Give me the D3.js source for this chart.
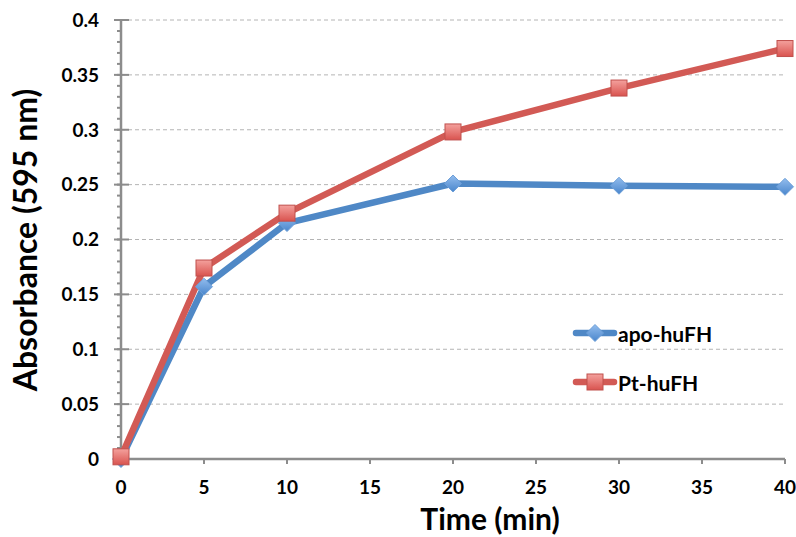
<!DOCTYPE html>
<html><head><meta charset="utf-8">
<script src="https://cdn.jsdelivr.net/npm/d3@7"></script>
<style>body{margin:0;background:#fff}</style>
</head><body>
<svg id="c" width="796" height="537"></svg>
<script>
const times = [0, 5, 10, 20, 30, 40];
const apoValues = [0.0, 0.157, 0.215, 0.251, 0.249, 0.248];
const ptValues = [0.002, 0.174, 0.224, 0.298, 0.338, 0.374];
const xTicks = [0, 5, 10, 15, 20, 25, 30, 35, 40];
const yTicks = [0, 0.05, 0.1, 0.15, 0.2, 0.25, 0.3, 0.35, 0.4];
const yTickLabels = ["0", "0.05", "0.1", "0.15", "0.2", "0.25", "0.3", "0.35", "0.4"];
const seriesNames = ["apo-huFH", "Pt-huFH"];

const svg = d3.select("#c");
const font = "Lato, 'Open Sans', sans-serif";
const x = d3.scaleLinear().domain([0, 40]).range([121, 785]);
const y = d3.scaleLinear().domain([0, 0.4]).range([459, 20]);

// gridlines
svg.append("g").selectAll("line").data(yTicks.filter(d => d > 0)).join("line")
  .attr("x1", x(0)).attr("x2", x(40)).attr("y1", d => y(d)).attr("y2", d => y(d))
  .attr("stroke", "#b4b4b4").attr("stroke-width", 1).attr("stroke-dasharray", "4,3");

// minor y ticks
const minor = d3.range(0, 41).map(i => i / 100);
svg.append("g").selectAll("line").data(minor).join("line")
  .attr("x1", x(0) - 4).attr("x2", x(0)).attr("y1", d => y(d)).attr("y2", d => y(d))
  .attr("stroke", "#8c8c8c").attr("stroke-width", 2);
// major y ticks
svg.append("g").selectAll("line").data(yTicks).join("line")
  .attr("x1", x(0) - 7).attr("x2", x(0) + 8).attr("y1", d => y(d)).attr("y2", d => y(d))
  .attr("stroke", "#8c8c8c").attr("stroke-width", 2);
// x ticks
svg.append("g").selectAll("line").data(xTicks).join("line")
  .attr("x1", d => x(d)).attr("x2", d => x(d)).attr("y1", y(0)).attr("y2", y(0) + 5)
  .attr("stroke", "#8c8c8c").attr("stroke-width", 2);
// axis lines
svg.append("line").attr("x1", x(0)).attr("x2", x(0)).attr("y1", y(0.4)).attr("y2", y(0))
  .attr("stroke", "#8c8c8c").attr("stroke-width", 2.5);
svg.append("line").attr("x1", x(0)).attr("x2", x(40)).attr("y1", y(0)).attr("y2", y(0))
  .attr("stroke", "#8c8c8c").attr("stroke-width", 2.5);

// tick labels
svg.append("g").selectAll("text").data(yTicks).join("text")
  .attr("x", 99).attr("y", d => y(d)).attr("dy", "0.36em").attr("text-anchor", "end")
  .attr("font-family", font).attr("font-weight", "bold").attr("font-size", 19)
  .text((d, i) => yTickLabels[i]);
svg.append("g").selectAll("text").data(xTicks).join("text")
  .attr("x", d => x(d)).attr("y", 494).attr("text-anchor", "middle")
  .attr("font-family", font).attr("font-weight", "bold").attr("font-size", 19)
  .text(d => d);

// axis titles
svg.append("text").attr("x", 490).attr("y", 530).attr("text-anchor", "middle")
  .attr("font-family", font).attr("font-weight", "bold").attr("font-size", 30).text("Time (min)");
svg.append("text").attr("transform", "translate(37,240) rotate(-90)").attr("text-anchor", "middle")
  .attr("font-family", font).attr("font-weight", "bold").attr("font-size", 32).text("Absorbance (595 nm)");

const line = d3.line().x(d => x(d[0])).y(d => y(d[1]));
const apoData = times.map((t, i) => [t, apoValues[i]]);
const ptData = times.map((t, i) => [t, ptValues[i]]);

const defs = svg.append("defs");
const gR = defs.append("linearGradient").attr("id", "gr").attr("x1", 0).attr("y1", 0).attr("x2", 0).attr("y2", 1);
gR.append("stop").attr("offset", 0).attr("stop-color", "#f4a19d");
gR.append("stop").attr("offset", 1).attr("stop-color", "#d9534f");
const gB = defs.append("linearGradient").attr("id", "gb").attr("x1", 0).attr("y1", 0).attr("x2", 0).attr("y2", 1);
gB.append("stop").attr("offset", 0).attr("stop-color", "#93bdee");
gB.append("stop").attr("offset", 1).attr("stop-color", "#4a86cc");

const blue = "#4f88c6", red = "#d25a55";
svg.append("path").datum(apoData).attr("d", line).attr("fill", "none")
  .attr("stroke", blue).attr("stroke-width", 6.5).attr("stroke-linejoin", "round");
svg.append("path").datum(ptData).attr("d", line).attr("fill", "none")
  .attr("stroke", red).attr("stroke-width", 6.5).attr("stroke-linejoin", "round");

function drawDiamond(g, cx, cy) {
  g.append("path").attr("d", "M0,-8.5L8.5,0L0,8.5L-8.5,0Z").attr("transform", `translate(${cx},${cy})`)
    .attr("fill", "url(#gb)").attr("stroke", "#6d9fd8").attr("stroke-width", 1);
}
function drawSquare(g, cx, cy) {
  g.append("rect").attr("x", cx - 8).attr("y", cy - 8).attr("width", 16).attr("height", 16)
    .attr("fill", "url(#gr)").attr("stroke", "#c0504d").attr("stroke-width", 1);
}
const mk = svg.append("g");
apoData.forEach(d => drawDiamond(mk, x(d[0]), y(d[1])));
ptData.forEach(d => drawSquare(mk, x(d[0]), y(d[1])));

// legend
const leg = svg.append("g");
const legY = [333, 382];
const legColors = [blue, red];
seriesNames.forEach((n, i) => {
  leg.append("line").attr("x1", 576).attr("x2", 614).attr("y1", legY[i]).attr("y2", legY[i])
    .attr("stroke", legColors[i]).attr("stroke-width", 6.5).attr("stroke-linecap", "round");
  if (i === 0) drawDiamond(leg, 595, legY[i]); else drawSquare(leg, 595, legY[i]);
  leg.append("text").attr("x", 618).attr("y", legY[i] + 9).attr("dy", 0)
    .attr("font-family", font).attr("font-weight", "bold").attr("font-size", 21).text(n);
});
</script>
</body></html>
